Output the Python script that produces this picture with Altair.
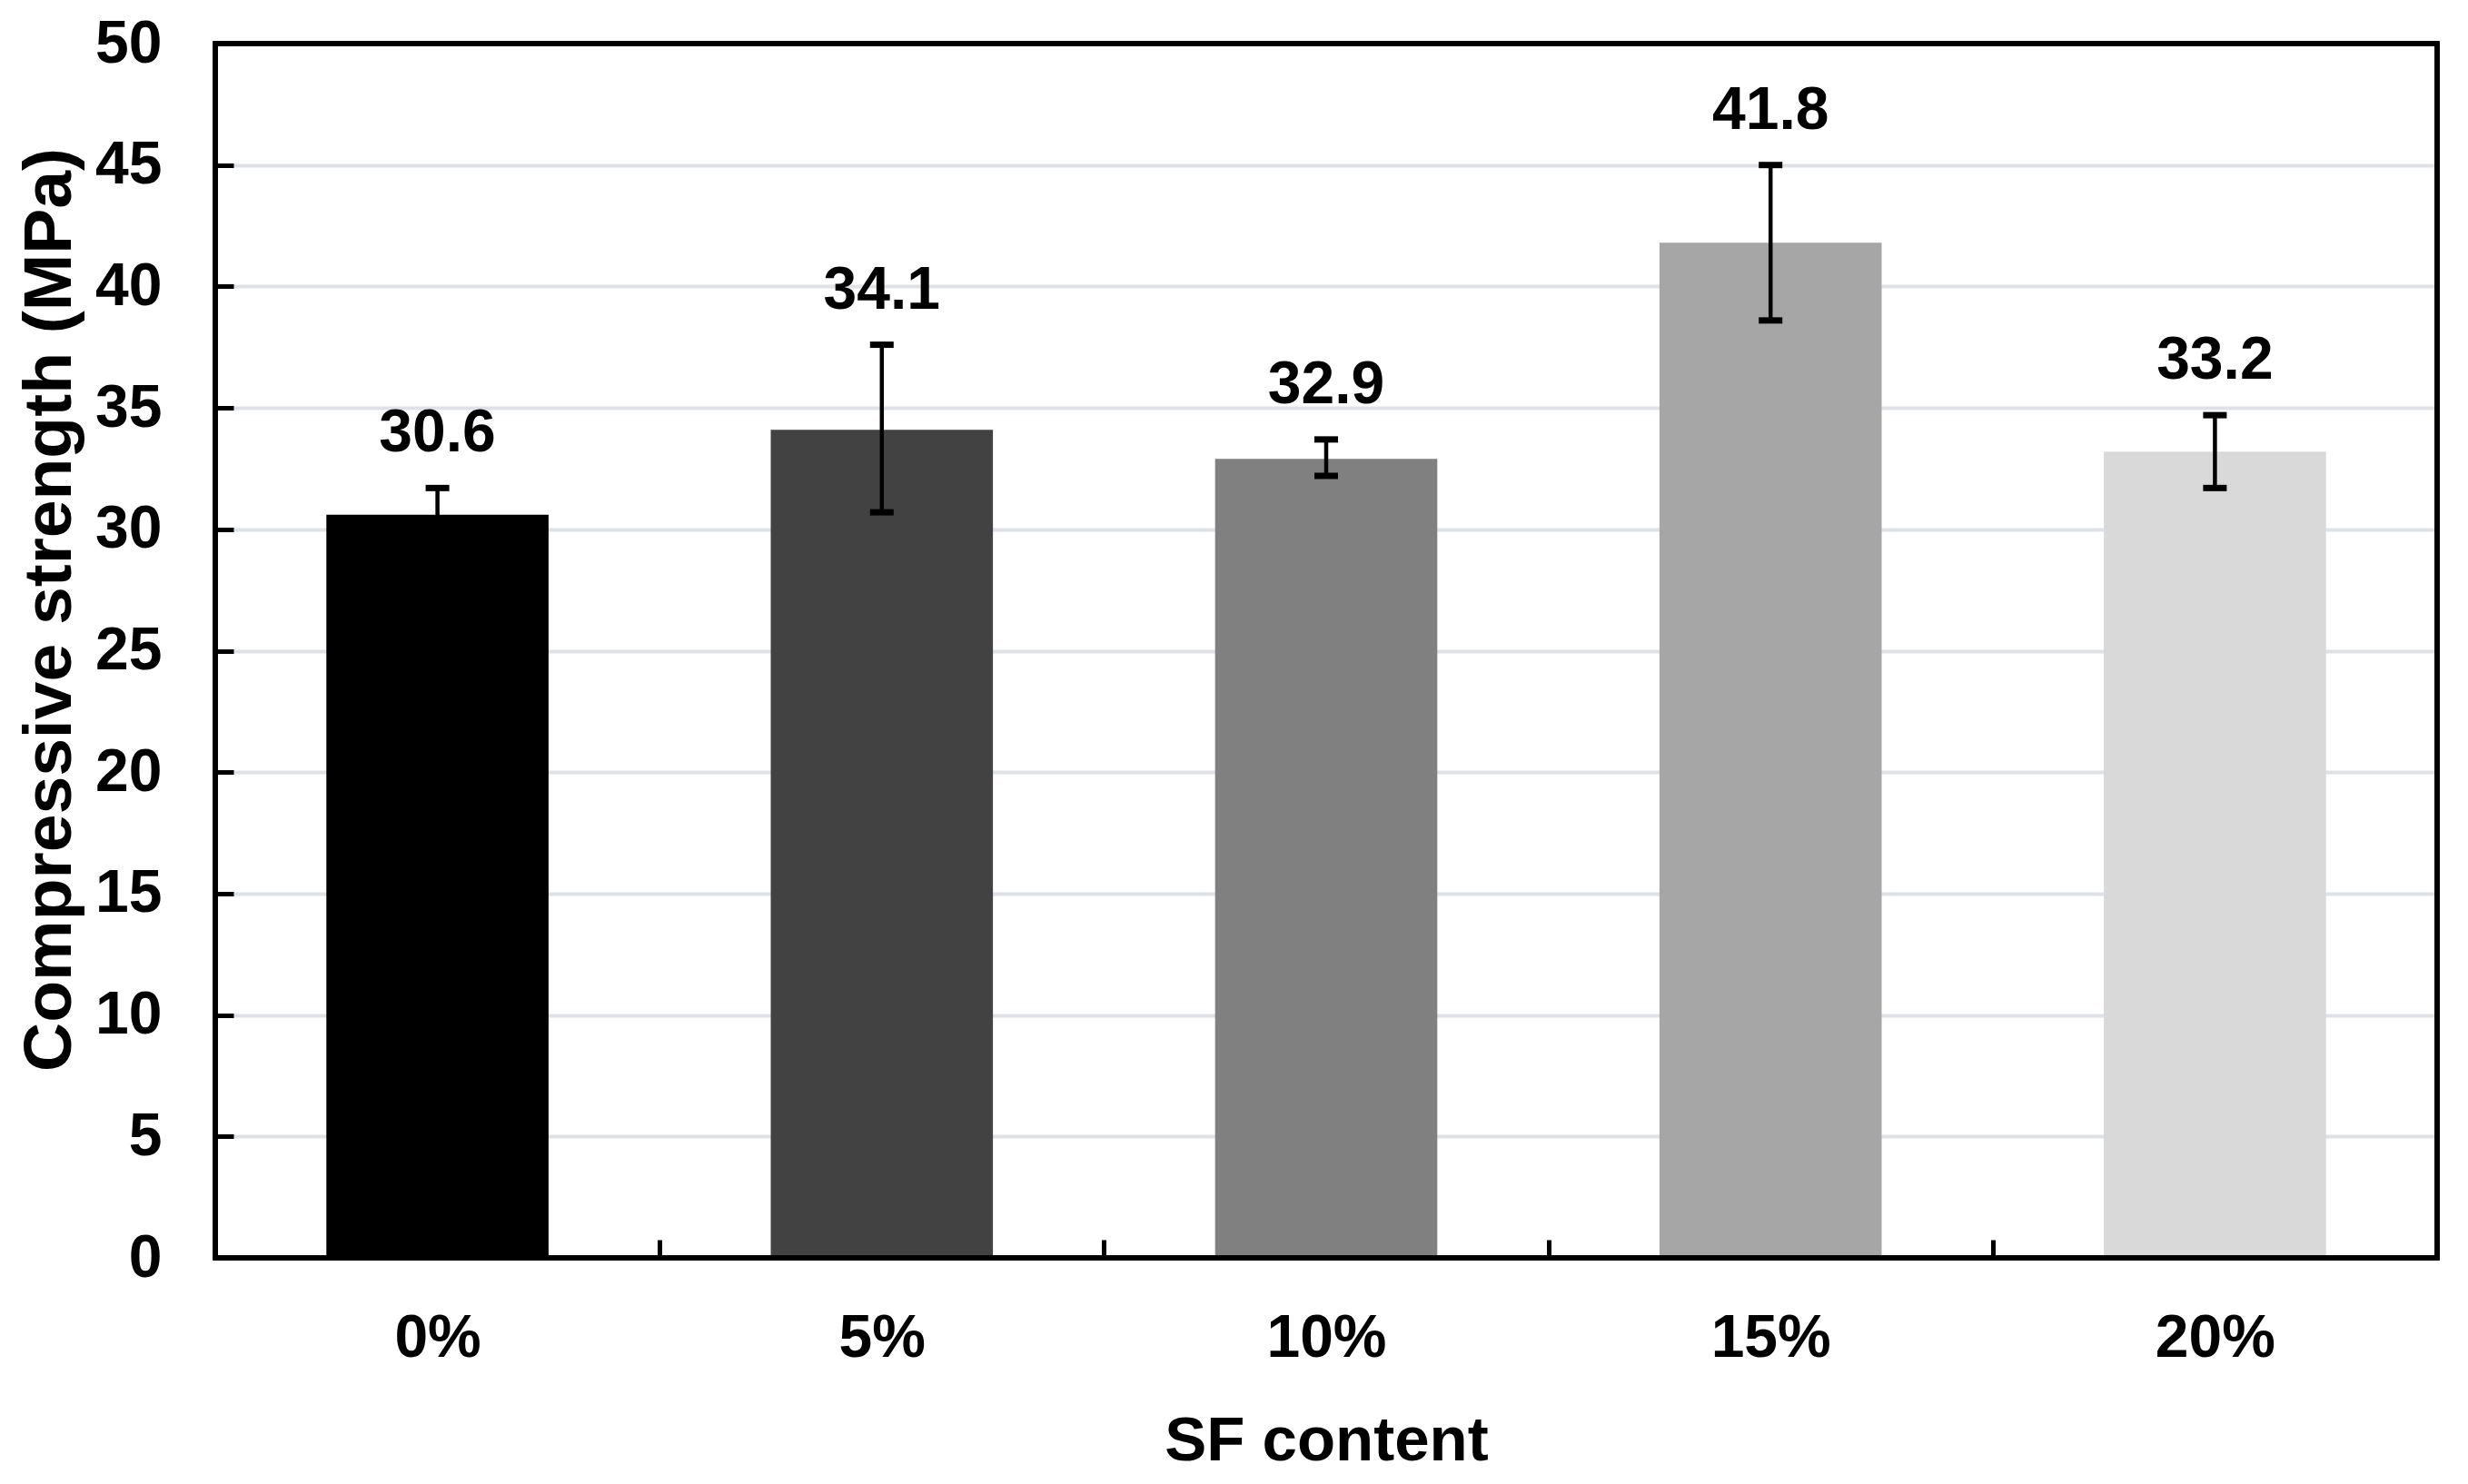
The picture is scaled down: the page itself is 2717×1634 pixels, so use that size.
import altair as alt
import pandas as pd

categories = ["0%", "5%", "10%", "15%", "20%"]
strength = [30.6, 34.1, 32.9, 41.8, 33.2]
err_low = [29.5, 30.7, 32.2, 38.6, 31.7]
err_high = [31.7, 37.6, 33.7, 45.0, 34.7]
bar_colors = ["#000000", "#424242", "#808080", "#a6a6a6", "#d9d9d9"]
y_ticks = [0, 5, 10, 15, 20, 25, 30, 35, 40, 45, 50]

df = pd.DataFrame({
    "cat": categories,
    "val": strength,
    "lo": err_low,
    "hi": err_high,
})

FONT = "Liberation Sans"

x_scale = alt.Scale(paddingInner=0, paddingOuter=0)

x_enc = alt.X(
    "cat:N",
    sort=categories,
    scale=x_scale,
    axis=alt.Axis(
        title="SF content",
        titleFont=FONT, titleFontSize=69, titleFontWeight="bold", titleColor="black",
        titlePadding=46,
        labelFont=FONT, labelFontSize=66, labelFontWeight="bold", labelColor="black",
        labelAngle=0, labelPadding=56,
        tickBand="extent", tickSize=20, tickWidth=5, tickColor="black",
        offset=-20, domain=False, grid=False,
    ),
)

y_scale = alt.Scale(domain=[0, 50], nice=False)

bars = alt.Chart(df).mark_bar(width=alt.RelativeBandSize(0.5)).encode(
    x=x_enc,
    y=alt.Y(
        "val:Q",
        scale=y_scale,
        axis=alt.Axis(
            title="Compressive strength (MPa)",
            titleFont=FONT, titleFontSize=75, titleFontWeight="bold", titleColor="black",
            titlePadding=11, titleY=623,
            labelFont=FONT, labelFontSize=66, labelFontWeight="bold", labelColor="black",
            labelPadding=59,
            values=y_ticks,
            tickSize=20, tickWidth=5, tickColor="black",
            offset=-20, domain=False,
            grid=True, gridColor="#dde1e8", gridWidth=4,
        ),
    ),
    color=alt.Color("cat:N", sort=categories,
                    scale=alt.Scale(domain=categories, range=bar_colors), legend=None),
)

rules = alt.Chart(df).mark_rule(color="black", strokeWidth=4.5).encode(
    x=alt.X("cat:N", sort=categories),
    y=alt.Y("lo:Q", scale=y_scale),
    y2="hi:Q",
)

caps_lo = alt.Chart(df).mark_tick(color="black", size=26, thickness=7, opacity=1).encode(
    x=alt.X("cat:N", sort=categories),
    y=alt.Y("lo:Q", scale=y_scale),
)
caps_hi = alt.Chart(df).mark_tick(color="black", size=26, thickness=7, opacity=1).encode(
    x=alt.X("cat:N", sort=categories),
    y=alt.Y("hi:Q", scale=y_scale),
)

labels = alt.Chart(df).mark_text(
    font=FONT, fontSize=66, fontWeight="bold", color="black",
    baseline="bottom", dy=-26,
).encode(
    x=alt.X("cat:N", sort=categories),
    y=alt.Y("hi:Q", scale=y_scale),
    text=alt.Text("val:Q", format=".1f"),
)

frame = alt.Chart(df).mark_rect(
    filled=False, stroke="black", strokeWidth=5, fillOpacity=0,
).encode(
    x=alt.value(0), x2=alt.value("width"),
    y=alt.value(0), y2=alt.value("height"),
)

chart = alt.layer(bars, rules, caps_lo, caps_hi, labels, frame).properties(
    width=2446,
    height=1337,
    padding={"left": 229, "top": 40, "right": 20, "bottom": 245},
    autosize="none",
).configure(
    background="white",
).configure_view(
    stroke=None,
)

chart.save("out.html", embed_options={"renderer": "svg", "actions": False})
